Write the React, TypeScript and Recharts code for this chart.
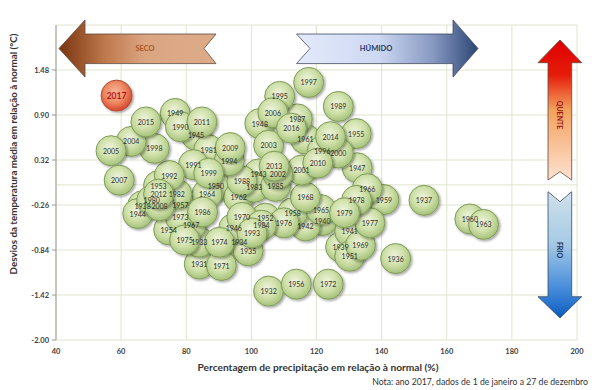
import React from 'react';
import { ScatterChart, Scatter, XAxis, YAxis, CartesianGrid, ReferenceLine, LabelList } from 'recharts';

const years = [
  1931, 1932, 1933, 1934, 1935, 1936, 1937, 1938, 1939, 1940,
  1941, 1942, 1943, 1944, 1945, 1946, 1947, 1948, 1949, 1950,
  1951, 1952, 1953, 1954, 1955, 1956, 1957, 1958, 1959, 1960,
  1961, 1962, 1963, 1964, 1965, 1966, 1967, 1968, 1969, 1970,
  1971, 1972, 1973, 1974, 1975, 1976, 1977, 1978, 1979, 1980,
  1981, 1982, 1983, 1984, 1985, 1986, 1987, 1988, 1989, 1990,
  1991, 1992, 1993, 1994, 1995, 1996, 1997, 1998, 1999, 2000,
  2001, 2002, 2003, 2004, 2005, 2006, 2007, 2008, 2009, 2010,
  2011, 2012, 2013, 2014, 2015, 2016, 2017,
];

const precipitation = [
  84.0, 105.3, 84.0, 96.3, 99.0, 144.3, 153.0, 66.6, 127.4, 121.8,
  130.2, 116.6, 102.2, 65.1, 83.0, 94.6, 132.5, 102.6, 76.6, 89.1,
  130.2, 104.3, 71.5, 74.6, 132.2, 113.8, 78.2, 112.7, 140.7, 167.1,
  116.6, 96.1, 171.3, 86.4, 121.4, 135.6, 81.5, 116.6, 133.5, 97.1,
  90.8, 123.6, 78.2, 90.2, 79.5, 110.0, 136.4, 132.3, 128.6, 69.4,
  86.9, 77.1, 100.9, 103.1, 107.4, 85.0, 114.1, 97.1, 126.7, 78.2,
  82.2, 74.8, 100.2, 93.2, 108.7, 121.8, 117.6, 70.2, 86.9, 126.7,
  115.4, 108.1, 105.3, 63.1, 56.9, 106.6, 59.4, 71.8, 93.5, 120.4,
  84.8, 71.5, 107.0, 124.3, 67.6, 112.3, 58.6,
];

const tempDeviation = [
  -1.02, -1.37, -0.74, -0.74, -0.85, -0.95, -0.2, -0.27, -0.8, -0.46,
  -0.6, -0.53, 0.14, -0.37, 0.64, -0.56, 0.22, 0.79, 0.92, -0.02,
  -0.92, -0.43, -0.01, -0.58, 0.66, -1.28, -0.26, -0.36, -0.19, -0.44,
  0.59, -0.16, -0.51, -0.12, -0.32, -0.05, -0.52, -0.16, -0.78, -0.42,
  -1.04, -1.28, -0.42, -0.74, -0.71, -0.49, -0.49, -0.2, -0.36, -0.2,
  0.45, -0.12, -0.03, -0.52, -0.02, -0.35, 0.85, 0.05, 1.01, 0.75,
  0.26, 0.12, -0.62, 0.31, 1.14, 0.44, 1.32, 0.47, 0.15, 0.41,
  0.19, 0.14, 0.51, 0.56, 0.44, 0.93, 0.06, -0.27, 0.48, 0.28,
  0.81, -0.12, 0.24, 0.62, 0.81, 0.73, 1.15,
];

const xTicks = [40, 60, 80, 100, 120, 140, 160, 180, 200];
const yTicks = [-2.0, -1.42, -0.84, -0.26, 0.32, 0.9, 1.48];
const highlightYear = 2017;

const rows = years.map((year, i) => ({ year, x: precipitation[i], y: tempDeviation[i] }));
const pastYears = rows.filter((r) => r.year !== highlightYear);
const currentYear = rows.filter((r) => r.year === highlightYear);

const FONT = 'Lato, "Open Sans", sans-serif';
const R = 15;

const GreenBubble = (props: any) => {
  const { cx, cy } = props;
  if (cx == null || cy == null) return null;
  return (
    <circle cx={cx} cy={cy} r={R} fill="url(#gBubble)" stroke="#7f9b57" strokeWidth={1} filter="url(#bShadow)" />
  );
};

const RedBubble = (props: any) => {
  const { cx, cy } = props;
  if (cx == null || cy == null) return null;
  return (
    <circle cx={cx} cy={cy} r={R + 0.5} fill="url(#rBubble)" stroke="#b34a33" strokeWidth={1} filter="url(#bShadow)" />
  );
};

const greenLabel = (props: any) => {
  const { x, y, width, height, value } = props;
  const cx = x + (width || 0) / 2;
  const cy = y + (height || 0) / 2;
  return (
    <text x={cx} y={cy} textAnchor="middle" dominantBaseline="central" fontSize={7} fontFamily={FONT} fill="#2e2e2e">
      {value}
    </text>
  );
};

const redLabel = (props: any) => {
  const { x, y, width, height, value } = props;
  const cx = x + (width || 0) / 2;
  const cy = y + (height || 0) / 2;
  return (
    <text x={cx} y={cy} textAnchor="middle" dominantBaseline="central" fontSize={8.5} fontWeight="bold" fontFamily={FONT} fill="#b3141c">
      {value}
    </text>
  );
};

export default function App() {
  return (
    <div style={{ position: 'absolute', left: 0, top: 0, width: 592, height: 390, background: '#fff' }}>
      <svg width={0} height={0} style={{ position: 'absolute' }}>
        <defs>
          <radialGradient id="gBubble" cx="45%" cy="40%" r="60%">
            <stop offset="0%" stopColor="#eef4dd" />
            <stop offset="55%" stopColor="#cfe0a9" />
            <stop offset="100%" stopColor="#a5c27a" />
          </radialGradient>
          <radialGradient id="rBubble" cx="45%" cy="40%" r="60%">
            <stop offset="0%" stopColor="#f7b89c" />
            <stop offset="55%" stopColor="#ee8a63" />
            <stop offset="100%" stopColor="#d5462c" />
          </radialGradient>
          <filter id="bShadow" x="-30%" y="-30%" width="170%" height="170%">
            <feDropShadow dx="1.5" dy="1.5" stdDeviation="1" floodColor="#000" floodOpacity="0.35" />
          </filter>
          <linearGradient id="secoGrad" x1="0" y1="0" x2="1" y2="0">
            <stop offset="0%" stopColor="#7a3510" />
            <stop offset="30%" stopColor="#c07a4e" />
            <stop offset="55%" stopColor="#dba582" />
            <stop offset="100%" stopColor="#ddab88" />
          </linearGradient>
          <linearGradient id="humGrad" x1="0" y1="0" x2="1" y2="0">
            <stop offset="0%" stopColor="#e4eafb" />
            <stop offset="45%" stopColor="#cdd8f2" />
            <stop offset="75%" stopColor="#8899c2" />
            <stop offset="100%" stopColor="#2d4674" />
          </linearGradient>
          <linearGradient id="hotGrad" x1="0" y1="0" x2="0" y2="1">
            <stop offset="0%" stopColor="#e00000" />
            <stop offset="25%" stopColor="#e51c0a" />
            <stop offset="50%" stopColor="#f4a25e" />
            <stop offset="100%" stopColor="#fde2d2" />
          </linearGradient>
          <linearGradient id="coldGrad" x1="0" y1="0" x2="0" y2="1">
            <stop offset="0%" stopColor="#cfe0ea" />
            <stop offset="40%" stopColor="#a7cbe6" />
            <stop offset="75%" stopColor="#4b8fdb" />
            <stop offset="100%" stopColor="#0a5cc0" />
          </linearGradient>
        </defs>
      </svg>
      <ScatterChart width={592} height={390} margin={{ top: 25, right: 15, bottom: 30, left: 16 }}>
        <CartesianGrid stroke="#dfe5cc" strokeWidth={1} />
        <XAxis
          type="number"
          dataKey="x"
          domain={[40, 200]}
          ticks={xTicks}
          interval={0}
          axisLine={false}
          tickLine={false}
          tickSize={0}
          tickMargin={9}
          height={20}
          tick={{ fontSize: 7.5, fontWeight: 'bold', fill: '#404040', fontFamily: FONT }}
        />
        <YAxis
          type="number"
          dataKey="y"
          domain={[-2.0, 2.06]}
          ticks={yTicks}
          interval={0}
          width={40}
          axisLine={{ stroke: '#9a9a9a' }}
          tickLine={{ stroke: '#9a9a9a' }}
          tickSize={4}
          tickMargin={3}
          tickFormatter={(v: number) => v.toFixed(2)}
          tick={{ fontSize: 7.5, fontWeight: 'bold', fill: '#404040', fontFamily: FONT }}
        />
        <ReferenceLine y={0} stroke="#dfe5cc" strokeWidth={1} />
        <Scatter data={pastYears} shape={GreenBubble} isAnimationActive={false}>
          <LabelList dataKey="year" content={greenLabel} />
        </Scatter>
        <Scatter data={currentYear} shape={RedBubble} isAnimationActive={false}>
          <LabelList dataKey="year" content={redLabel} />
        </Scatter>
      </ScatterChart>
      <svg width={592} height={390} style={{ position: 'absolute', left: 0, top: 0, pointerEvents: 'none' }}>
        <polygon
          points="59,48.5 85,20 85,34 216,34 204,48.5 216,63.6 85,63.6 85,77"
          fill="url(#secoGrad)"
          stroke="#5a4a40"
          strokeWidth={0.8}
        />
        <text x={145} y={48.5} textAnchor="middle" dominantBaseline="central" fontSize={7.5} fontWeight="bold" fill="#a8561f" fontFamily={FONT}>
          SECO
        </text>
        <polygon
          points="296.5,34 453,34 453,20 478,48.5 453,77 453,63.6 296.5,63.6 310,48.5"
          fill="url(#humGrad)"
          stroke="#3d4a60"
          strokeWidth={0.8}
        />
        <text x={376} y={48.5} textAnchor="middle" dominantBaseline="central" fontSize={7.5} fontWeight="bold" fill="#243a68" fontFamily={FONT}>
          HÚMIDO
        </text>
        <polygon
          points="560,40 581.7,62.7 571.7,62.7 571.7,180 560,171.7 548,180 548,62.7 538,62.7"
          fill="url(#hotGrad)"
          stroke="#5a4a40"
          strokeWidth={0.8}
        />
        <text x={560} y={115} textAnchor="middle" dominantBaseline="central" fontSize={7} fontWeight="bold" fill="#9a1616" fontFamily={FONT} transform="rotate(90 560 115)">
          QUENTE
        </text>
        <polygon
          points="548,191.7 560,201.7 571.7,191.7 571.7,296.7 581.7,296.7 560,318 538,296.7 548,296.7"
          fill="url(#coldGrad)"
          stroke="#3d4a60"
          strokeWidth={0.8}
        />
        <text x={560} y={250} textAnchor="middle" dominantBaseline="central" fontSize={7} fontWeight="bold" fill="#1b2d55" fontFamily={FONT} transform="rotate(90 560 250)">
          FRIO
        </text>
        <text x={13} y={154} textAnchor="middle" dominantBaseline="central" fontSize={9.8} fontWeight="bold" fill="#333" fontFamily={FONT} transform="rotate(-90 13 154)">
          Desvios da temperatura média em relação à normal  (°C)
        </text>
        <text x={318} y={367} textAnchor="middle" dominantBaseline="central" fontSize={10.2} fontWeight="bold" fill="#333" fontFamily={FONT}>
          Percentagem de precipitação em relação à normal  (%)
        </text>
        <text x={588} y={381} textAnchor="end" dominantBaseline="central" fontSize={8.7} fill="#333" fontFamily={FONT}>
          Nota: ano 2017, dados de  1 de janeiro a 27 de dezembro
        </text>
      </svg>
    </div>
  );
}
